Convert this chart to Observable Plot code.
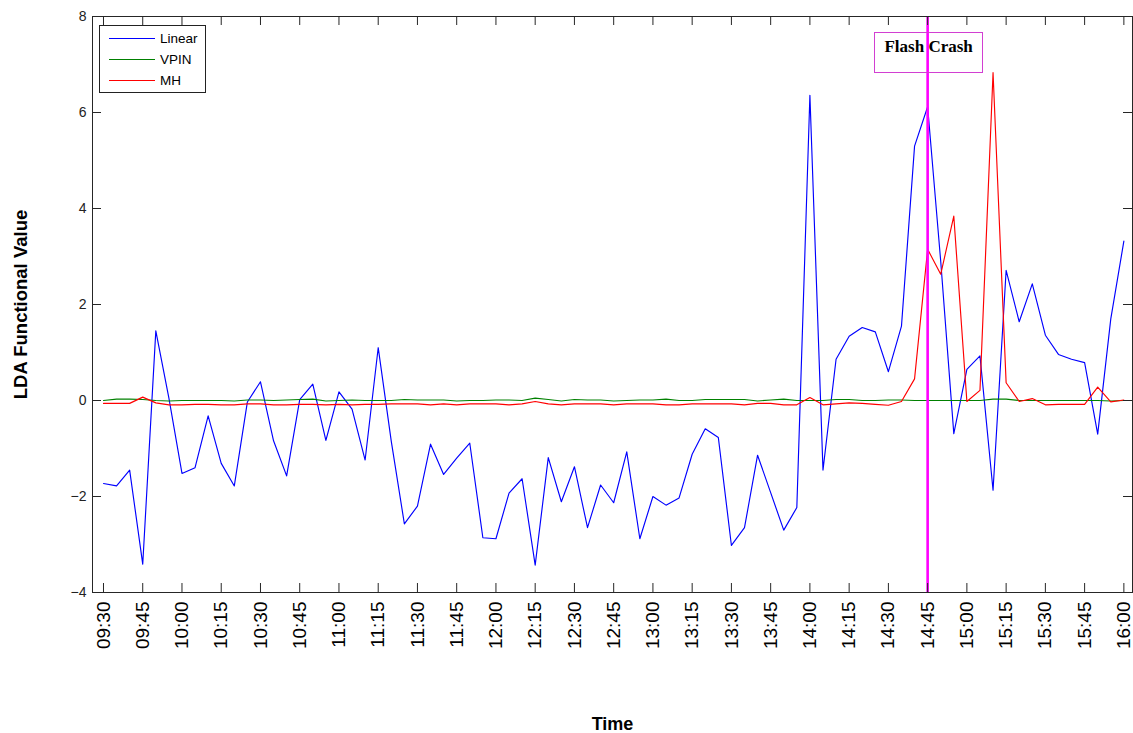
<!DOCTYPE html>
<html>
<head>
<meta charset="utf-8">
<script src="https://cdn.jsdelivr.net/npm/d3@7"></script>
<script src="https://cdn.jsdelivr.net/npm/@observablehq/plot@0.6"></script>
<style>
  html, body { margin: 0; padding: 0; background: #fff; }
  #wrap { position: relative; width: 1133px; height: 733px; font-family: "Liberation Sans", Arial, sans-serif; }
  .legend { position: absolute; box-sizing: border-box; border: 1px solid #222; background: #fff; padding-top: 2px; }
  .legend .row { display: flex; align-items: center; height: 21px; font-size: 13.5px; color: #000; }
  .legend .sw { width: 46px; height: 0; border-top: 1px solid; margin-left: 9px; margin-right: 5px; }
  .callout { position: absolute; box-sizing: border-box; border: 1px solid #d23fd2; text-align: center;
             font-family: "Liberation Serif", "Times New Roman", serif; font-weight: bold; font-size: 17px;
             line-height: 17px; padding-top: 5px; color: #000; }
</style>
</head>
<body>
<div id="wrap"></div>
<script>
// Five-minute bars over the 6 May 2010 session, 09:30 to 16:00
const sessionStart = "09:30";
const stepMinutes = 5;

const seriesNames = ["Linear", "VPIN", "MH"];
const seriesColors = ["#0000ff", "#008000", "#ff0000"];

const linear = [
  -1.73, -1.78, -1.45, -3.41, 1.45, 0.05, -1.52, -1.40, -0.32, -1.31,
  -1.78, -0.03, 0.39, -0.84, -1.57, 0.02, 0.34, -0.83, 0.18, -0.18,
  -1.24, 1.10, -0.85, -2.57, -2.20, -0.91, -1.54, -1.20, -0.89, -2.86,
  -2.88, -1.93, -1.63, -3.43, -1.19, -2.11, -1.38, -2.65, -1.76, -2.13,
  -1.07, -2.88, -2.00, -2.18, -2.03, -1.12, -0.59, -0.77, -3.02, -2.65,
  -1.14, -1.92, -2.70, -2.23, 6.36, -1.45, 0.86, 1.34, 1.52, 1.43,
  0.60, 1.55, 5.30, 6.12, 2.90, -0.69, 0.65, 0.93, -1.87, 2.71,
  1.64, 2.43, 1.36, 0.96, 0.86, 0.79, -0.70, 1.70, 3.32
];

const vpin = [
  0.00, 0.03, 0.03, 0.02, 0.00, -0.01, 0.00, 0.00, 0.00, 0.00,
  -0.01, 0.01, 0.01, 0.00, 0.01, 0.02, 0.03, -0.01, 0.00, 0.01,
  0.00, 0.00, 0.00, 0.02, 0.01, 0.01, 0.01, -0.01, 0.00, 0.00,
  0.01, 0.01, 0.00, 0.05, 0.02, -0.01, 0.02, 0.01, 0.01, -0.01,
  0.00, 0.01, 0.01, 0.03, 0.00, 0.00, 0.02, 0.02, 0.02, 0.02,
  -0.01, 0.01, 0.03, 0.00, 0.00, 0.00, 0.02, 0.02, 0.00, 0.00,
  0.01, 0.01, 0.00, 0.00, 0.00, 0.00, 0.00, 0.00, 0.03, 0.03,
  0.00, 0.00, 0.00, 0.00, 0.00, 0.00, 0.00, -0.01, 0.00
];

const mh = [
  -0.06, -0.06, -0.06, 0.07, -0.05, -0.09, -0.09, -0.08, -0.08, -0.09,
  -0.09, -0.07, -0.07, -0.09, -0.09, -0.08, -0.08, -0.09, -0.08, -0.09,
  -0.08, -0.08, -0.07, -0.07, -0.07, -0.09, -0.07, -0.09, -0.07, -0.07,
  -0.07, -0.09, -0.07, -0.02, -0.07, -0.09, -0.07, -0.07, -0.07, -0.09,
  -0.07, -0.07, -0.07, -0.09, -0.09, -0.07, -0.07, -0.07, -0.07, -0.09,
  -0.06, -0.06, -0.09, -0.09, 0.06, -0.09, -0.07, -0.05, -0.06, -0.08,
  -0.10, -0.02, 0.45, 3.15, 2.63, 3.84, -0.02, 0.21, 6.83, 0.37,
  -0.02, 0.04, -0.09, -0.08, -0.08, -0.08, 0.28, -0.03, 0.01
];

const xTickLabels = [
  "09:30", "09:45", "10:00", "10:15", "10:30", "10:45", "11:00", "11:15", "11:30",
  "11:45", "12:00", "12:15", "12:30", "12:45", "13:00", "13:15", "13:30", "13:45",
  "14:00", "14:15", "14:30", "14:45", "15:00", "15:15", "15:30", "15:45", "16:00"
];
const yTicks = [-4, -2, 0, 2, 4, 6, 8];

const flashCrash = { time: "14:45", label: "Flash Crash" };

// clock string <-> minutes after midnight
const toMinutes = s => { const [h, m] = s.split(":").map(Number); return h * 60 + m; };
const labelByMinute = new Map(xTickLabels.map(s => [toMinutes(s), s]));
const xTicks = xTickLabels.map(toMinutes);

const rows = linear.map((v, i) => ({
  t: toMinutes(sessionStart) + i * stepMinutes,
  Linear: v,
  VPIN: vpin[i],
  MH: mh[i]
}));

const W = 1133, H = 733;
const mL = 92, mR = 1, mT = 16, mB = 141;
const innerW = W - mL - mR, innerH = H - mT - mB;
const tickLen = 9;
const axisColor = "#262626";

const chart = Plot.plot({
  width: W, height: H,
  marginLeft: mL, marginRight: mR, marginTop: mT, marginBottom: mB,
  style: { background: "#fff", color: "#000", fontFamily: "'Liberation Sans', Arial, sans-serif", overflow: "visible" },
  x: { domain: [565.8, 963.3] },
  y: { domain: [-4, 8] },
  marks: [
    ...seriesNames.map((name, k) =>
      Plot.line(rows, { x: "t", y: name, stroke: seriesColors[k], strokeWidth: 1.15 })
    ),
    Plot.ruleX([flashCrash], { x: d => toMinutes(d.time), stroke: "#ff00ff", strokeWidth: 2.6 }),
    Plot.frame({ stroke: axisColor }),
    // inward ticks on all four sides of the box
    Plot.tickX(xTicks, { x: d => d, insetTop: innerH - tickLen, stroke: axisColor }),
    Plot.tickX(xTicks, { x: d => d, insetBottom: innerH - tickLen, stroke: axisColor }),
    Plot.tickY(yTicks, { y: d => d, insetRight: innerW - tickLen, stroke: axisColor }),
    Plot.tickY(yTicks, { y: d => d, insetLeft: innerW - tickLen, stroke: axisColor }),
    Plot.axisX({
      ticks: xTicks, tickFormat: m => labelByMinute.get(m), tickRotate: -90,
      tickSize: 0, tickPadding: 9, fontSize: 19, label: null
    }),
    Plot.axisX({
      ticks: [], label: "Time", labelAnchor: "center", labelArrow: "none",
      labelOffset: 137, fontSize: 18, fontWeight: "bold"
    }),
    Plot.axisY({
      ticks: yTicks, tickSize: 0, tickPadding: 6, fontSize: 14, fill: "#222", label: null
    }),
    Plot.axisY({
      ticks: [], label: "LDA Functional Value", labelAnchor: "center", labelArrow: "none",
      labelOffset: 79, fontSize: 18.5, fontWeight: "bold"
    })
  ]
});

const wrap = document.getElementById("wrap");
wrap.appendChild(chart);

// legend box in the upper-left corner of the axes
const legend = document.createElement("div");
legend.className = "legend";
Object.assign(legend.style, { left: "99px", top: "25px", width: "107px", height: "68px" });
seriesNames.forEach((name, k) => {
  const row = document.createElement("div");
  row.className = "row";
  const sw = document.createElement("span");
  sw.className = "sw";
  sw.style.borderTopColor = seriesColors[k];
  const txt = document.createElement("span");
  txt.textContent = name;
  row.appendChild(sw);
  row.appendChild(txt);
  legend.appendChild(row);
});
wrap.appendChild(legend);

// annotation box centred on the flash-crash marker
const cx = chart.scale("x").apply(toMinutes(flashCrash.time));
const boxW = 109;
const callout = document.createElement("div");
callout.className = "callout";
callout.textContent = flashCrash.label;
Object.assign(callout.style, { left: (cx - boxW / 2 + 1.5) + "px", top: "32px", width: boxW + "px", height: "41px" });
wrap.appendChild(callout);
</script>
</body>
</html>
